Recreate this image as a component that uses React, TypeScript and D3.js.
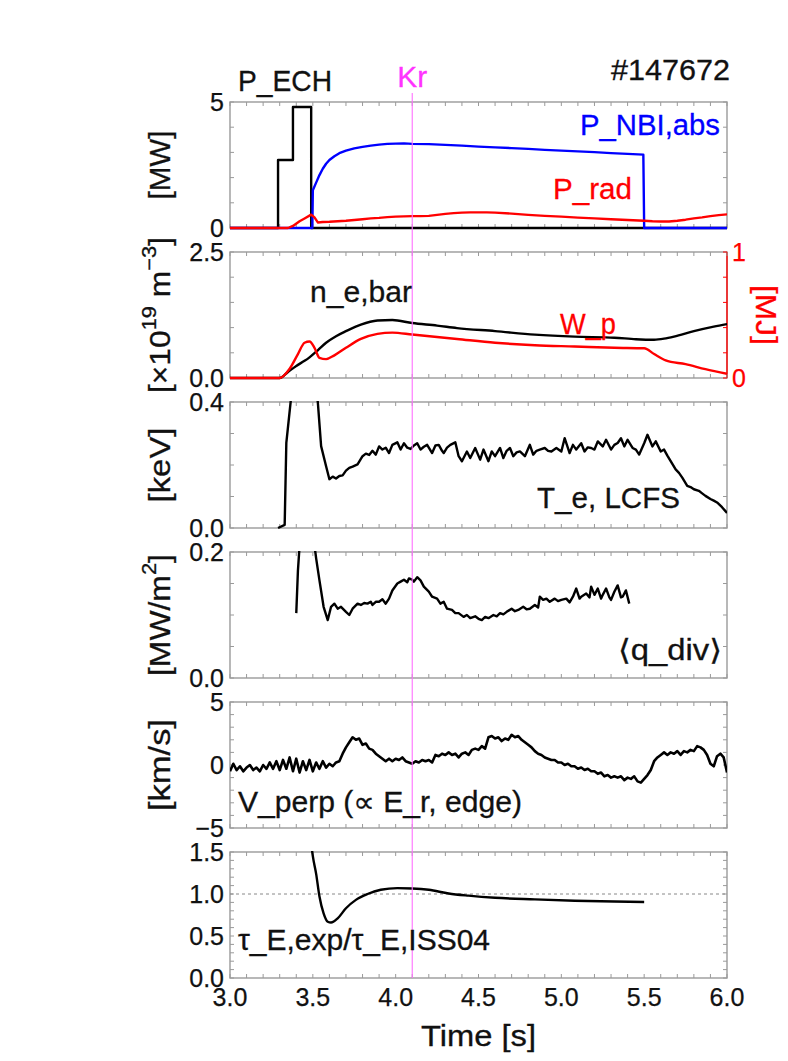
import React from 'react';
import * as d3 from 'd3';

type Pt = [number, number];

const W = 788;
const H = 1061;
const X0 = 230;
const X1 = 727;
const TOP0 = 102;
const STEP = 150;
const PH = 126;

const timeDomain: Pt = [3, 6];
const timeTicks = [3.0, 3.5, 4.0, 4.5, 5.0, 5.5, 6.0];
const krTime = 4.1;
const shotLabel = '#147672';

// Panel 1 [MW]
const pEch: Pt[] = [[3.0, 0], [3.29, 0], [3.29, 2.7], [3.38, 2.7], [3.38, 4.8], [3.49, 4.8], [3.49, 0], [6.0, 0]];
const pNbi: Pt[] = [
  [3.0, 0], [3.497, 0], [3.5, 1.5], [3.52, 1.8], [3.54, 2.1], [3.56, 2.35], [3.58, 2.55], [3.6, 2.7], [3.63, 2.85],
  [3.66, 2.97], [3.7, 3.07], [3.75, 3.16], [3.8, 3.22], [3.85, 3.27], [3.9, 3.31], [3.95, 3.34], [4.0, 3.35],
  [4.05, 3.36], [4.1, 3.34], [4.2, 3.33], [4.3, 3.3], [4.4, 3.27], [4.5, 3.23], [4.6, 3.2], [4.7, 3.17],
  [4.8, 3.14], [4.9, 3.1], [5.0, 3.07], [5.1, 3.04], [5.2, 3.01], [5.3, 2.97], [5.4, 2.94], [5.495, 2.91],
  [5.5, 0], [6.0, 0]
];
const pRad: Pt[] = [
  [3.0, 0], [3.35, 0], [3.38, 0.08], [3.42, 0.27], [3.45, 0.38], [3.49, 0.53], [3.51, 0.42], [3.53, 0.22],
  [3.56, 0.24], [3.6, 0.25], [3.65, 0.27], [3.7, 0.29], [3.75, 0.32], [3.8, 0.35], [3.85, 0.38], [3.9, 0.4],
  [3.95, 0.43], [4.0, 0.45], [4.05, 0.46], [4.1, 0.47], [4.15, 0.47], [4.2, 0.48], [4.25, 0.52], [4.3, 0.56],
  [4.35, 0.59], [4.4, 0.61], [4.45, 0.62], [4.5, 0.62], [4.55, 0.62], [4.6, 0.61], [4.7, 0.57], [4.8, 0.52],
  [4.9, 0.48], [5.0, 0.45], [5.1, 0.41], [5.2, 0.38], [5.3, 0.35], [5.4, 0.32], [5.5, 0.29], [5.55, 0.27],
  [5.6, 0.26], [5.65, 0.26], [5.7, 0.29], [5.75, 0.33], [5.8, 0.38], [5.85, 0.42], [5.9, 0.47], [5.95, 0.51],
  [6.0, 0.54]
];

// Panel 2
const neBar: Pt[] = [
  [3.0, 0], [3.3, 0], [3.35, 0.12], [3.4, 0.24], [3.45, 0.34], [3.48, 0.41], [3.53, 0.55], [3.58, 0.7],
  [3.64, 0.83], [3.7, 0.93], [3.79, 1.06], [3.89, 1.14], [3.98, 1.15], [4.1, 1.09], [4.25, 1.04], [4.37, 0.99],
  [4.6, 0.93], [4.84, 0.86], [5.08, 0.82], [5.32, 0.8], [5.45, 0.77], [5.56, 0.76], [5.62, 0.78], [5.68, 0.82],
  [5.8, 0.93], [5.92, 1.02], [6.0, 1.07]
];
const wp: Pt[] = [
  [3.0, 0], [3.3, 0], [3.36, 0.073], [3.41, 0.19], [3.45, 0.28], [3.48, 0.29], [3.51, 0.24], [3.54, 0.16],
  [3.58, 0.15], [3.63, 0.18], [3.7, 0.24], [3.79, 0.31], [3.89, 0.35], [3.98, 0.36], [4.1, 0.345], [4.37, 0.31],
  [4.6, 0.28], [4.84, 0.26], [5.08, 0.25], [5.32, 0.24], [5.5, 0.236], [5.56, 0.19], [5.63, 0.14], [5.75, 0.11],
  [5.87, 0.07], [6.0, 0.034]
];

// Panel 3 [keV]
const teLcfs: Pt[] = [
  [3.29, 0], [3.33, 0.01], [3.34, 0.27], [3.37, 0.42], [3.42, 0.5], [3.5, 0.5], [3.53, 0.4], [3.55, 0.26],
  [3.58, 0.196], [3.6, 0.155], [3.62, 0.163], [3.64, 0.157], [3.66, 0.165], [3.68, 0.167], [3.7, 0.182],
  [3.72, 0.191], [3.74, 0.195], [3.77, 0.202], [3.8, 0.228], [3.82, 0.236], [3.84, 0.232], [3.86, 0.245],
  [3.88, 0.233], [3.9, 0.259], [3.92, 0.249], [3.94, 0.255], [3.96, 0.238], [3.98, 0.264], [4.01, 0.272],
  [4.03, 0.249], [4.05, 0.269], [4.07, 0.255], [4.09, 0.251], [4.11, 0.262], [4.13, 0.269], [4.15, 0.249],
  [4.17, 0.258], [4.19, 0.264], [4.22, 0.238], [4.24, 0.262], [4.26, 0.264], [4.28, 0.245], [4.29, 0.238],
  [4.31, 0.255], [4.33, 0.264], [4.36, 0.272], [4.38, 0.228], [4.4, 0.212], [4.43, 0.243], [4.45, 0.222],
  [4.48, 0.254], [4.51, 0.217], [4.53, 0.249], [4.56, 0.212], [4.58, 0.243], [4.6, 0.228], [4.63, 0.254],
  [4.65, 0.222], [4.67, 0.245], [4.69, 0.254], [4.71, 0.228], [4.73, 0.24], [4.75, 0.243], [4.78, 0.228],
  [4.81, 0.264], [4.83, 0.233], [4.85, 0.245], [4.87, 0.249], [4.9, 0.254], [4.92, 0.245], [4.94, 0.243],
  [4.97, 0.254], [5.0, 0.243], [5.02, 0.285], [5.05, 0.238], [5.07, 0.264], [5.09, 0.249], [5.12, 0.269],
  [5.14, 0.243], [5.16, 0.256], [5.18, 0.254], [5.2, 0.249], [5.22, 0.275], [5.25, 0.259], [5.27, 0.28],
  [5.3, 0.249], [5.32, 0.264], [5.34, 0.27], [5.36, 0.285], [5.38, 0.259], [5.4, 0.28], [5.43, 0.254],
  [5.45, 0.249], [5.47, 0.233], [5.5, 0.269], [5.52, 0.296], [5.55, 0.259], [5.57, 0.275], [5.6, 0.243],
  [5.62, 0.249], [5.64, 0.23], [5.66, 0.212], [5.69, 0.186], [5.71, 0.175], [5.73, 0.16], [5.76, 0.134],
  [5.78, 0.13], [5.8, 0.123], [5.83, 0.118], [5.85, 0.11], [5.87, 0.102], [5.9, 0.092], [5.92, 0.087],
  [5.94, 0.081], [5.97, 0.066], [6.0, 0.048]
];

// Panel 4 [MW/m2]
const qDiv: Pt[] = [
  [3.4, 0.103], [3.41, 0.17], [3.42, 0.21], [3.51, 0.21], [3.52, 0.19], [3.54, 0.155], [3.565, 0.113],
  [3.59, 0.092], [3.61, 0.113], [3.63, 0.118], [3.65, 0.11], [3.67, 0.113], [3.7, 0.105], [3.72, 0.1],
  [3.74, 0.11], [3.77, 0.118], [3.79, 0.116], [3.81, 0.119], [3.83, 0.118], [3.85, 0.121], [3.86, 0.116],
  [3.88, 0.121], [3.9, 0.121], [3.92, 0.125], [3.94, 0.118], [3.96, 0.126], [3.98, 0.139], [4.01, 0.15],
  [4.03, 0.153], [4.05, 0.156], [4.07, 0.152], [4.08, 0.158], [4.1, 0.156], [4.11, 0.153], [4.13, 0.16],
  [4.15, 0.155], [4.17, 0.145], [4.2, 0.137], [4.22, 0.129], [4.25, 0.126], [4.27, 0.118], [4.29, 0.121],
  [4.31, 0.11], [4.34, 0.108], [4.36, 0.103], [4.38, 0.103], [4.41, 0.097], [4.43, 0.1], [4.45, 0.095],
  [4.48, 0.098], [4.5, 0.094], [4.52, 0.092], [4.54, 0.097], [4.56, 0.095], [4.59, 0.1], [4.61, 0.098],
  [4.63, 0.103], [4.65, 0.101], [4.67, 0.105], [4.7, 0.11], [4.72, 0.106], [4.74, 0.108], [4.77, 0.113],
  [4.79, 0.109], [4.81, 0.11], [4.84, 0.116], [4.86, 0.112], [4.87, 0.129], [4.89, 0.124], [4.91, 0.126],
  [4.93, 0.121], [4.96, 0.126], [4.98, 0.122], [5.0, 0.124], [5.03, 0.126], [5.05, 0.12], [5.07, 0.129],
  [5.09, 0.142], [5.11, 0.126], [5.12, 0.129], [5.15, 0.134], [5.17, 0.128], [5.18, 0.145], [5.2, 0.132],
  [5.22, 0.142], [5.24, 0.126], [5.25, 0.132], [5.27, 0.142], [5.29, 0.128], [5.3, 0.124], [5.32, 0.137],
  [5.34, 0.147], [5.36, 0.128], [5.37, 0.129], [5.39, 0.139], [5.41, 0.118]
];

// Panel 5 [km/s]
const vPerp: Pt[] = [
  [3.0, -0.5], [3.02, 0.1], [3.04, -0.4], [3.06, -0.1], [3.08, -0.5], [3.1, -0.2], [3.12, 0.0], [3.14, -0.4],
  [3.16, -0.2], [3.18, -0.5], [3.2, 0.0], [3.22, -0.3], [3.24, 0.2], [3.26, -0.3], [3.28, 0.3], [3.3, -0.4],
  [3.32, 0.4], [3.34, -0.3], [3.36, 0.6], [3.38, -0.5], [3.4, 0.5], [3.42, -0.6], [3.44, 0.3], [3.46, -0.4],
  [3.48, 0.4], [3.5, -0.5], [3.52, 0.2], [3.54, -0.3], [3.56, 0.3], [3.58, -0.2], [3.6, 0.1], [3.62, -0.1],
  [3.64, 0.2], [3.66, 0.3], [3.68, 0.9], [3.7, 1.4], [3.72, 1.8], [3.74, 2.2], [3.76, 2.0], [3.78, 2.1],
  [3.8, 1.6], [3.82, 1.7], [3.84, 1.3], [3.86, 1.2], [3.88, 0.9], [3.9, 0.7], [3.92, 0.5], [3.94, 0.3],
  [3.96, 0.5], [3.98, 0.3], [4.0, 0.5], [4.02, 0.4], [4.04, 0.6], [4.06, 0.3], [4.08, 0.2], [4.1, 0.1],
  [4.12, 0.3], [4.14, 0.2], [4.16, 0.4], [4.18, 0.3], [4.2, 0.4], [4.22, 0.2], [4.24, 0.8], [4.26, 0.7],
  [4.28, 0.9], [4.3, 0.8], [4.32, 1.0], [4.34, 0.8], [4.36, 0.9], [4.38, 0.6], [4.4, 0.9], [4.42, 1.0],
  [4.44, 0.8], [4.46, 1.2], [4.48, 1.3], [4.5, 1.2], [4.52, 1.5], [4.54, 1.3], [4.56, 2.2], [4.58, 2.3],
  [4.6, 2.1], [4.62, 2.2], [4.64, 1.9], [4.66, 2.1], [4.68, 2.0], [4.7, 2.4], [4.72, 2.2], [4.74, 2.3],
  [4.76, 2.0], [4.78, 1.8], [4.8, 1.6], [4.82, 1.4], [4.84, 1.1], [4.86, 0.9], [4.88, 0.8], [4.9, 0.6],
  [4.92, 0.5], [4.94, 0.4], [4.96, 0.4], [4.98, 0.2], [5.0, 0.2], [5.02, 0.0], [5.04, 0.1], [5.06, -0.1],
  [5.08, -0.1], [5.1, -0.3], [5.12, -0.2], [5.14, -0.4], [5.16, -0.3], [5.18, -0.5], [5.2, -0.5], [5.22, -0.7],
  [5.24, -0.6], [5.26, -0.9], [5.28, -0.8], [5.3, -1.0], [5.32, -0.9], [5.34, -1.0], [5.36, -0.9], [5.38, -1.2],
  [5.4, -1.0], [5.42, -1.1], [5.44, -0.9], [5.46, -1.3], [5.48, -1.4], [5.5, -1.1], [5.52, -0.8], [5.54, -0.4],
  [5.56, 0.3], [5.58, 0.6], [5.6, 0.8], [5.62, 1.0], [5.64, 0.8], [5.66, 1.0], [5.68, 0.9], [5.7, 1.1],
  [5.72, 0.8], [5.74, 1.1], [5.76, 1.0], [5.78, 1.2], [5.8, 1.1], [5.82, 1.5], [5.84, 1.4], [5.86, 1.2],
  [5.88, 0.8], [5.9, 0.1], [5.92, -0.1], [5.94, 0.7], [5.96, 0.9], [5.98, 0.6], [6.0, -0.6]
];

// Panel 6
const tauRatio: Pt[] = [
  [3.49, 1.6], [3.5, 1.45], [3.52, 1.24], [3.54, 0.97], [3.565, 0.77], [3.59, 0.67], [3.61, 0.66], [3.65, 0.71],
  [3.7, 0.83], [3.76, 0.93], [3.83, 1.0], [3.91, 1.05], [4.01, 1.07], [4.1, 1.066], [4.2, 1.05], [4.32, 1.006],
  [4.44, 0.98], [4.6, 0.955], [4.84, 0.936], [5.08, 0.92], [5.32, 0.91], [5.5, 0.904]
];
const tauRef = 1.0;

const p1Ticks = [0, 5];
const p2Ticks = [0, 2.5];
const p2RightTicks = [0, 1];
const p3Ticks = [0, 0.4];
const p4Ticks = [0, 0.2];
const p5Ticks = [-5, 0, 5];
const p6Ticks = [0, 0.5, 1.0, 1.5];

const FONT = '"Liberation Sans", Arial, "DejaVu Sans", "Noto Sans CJK JP", sans-serif';
const FRAME = '#9a9a9a';
const BLUE = '#0000ff';
const RED = '#ff0000';
const MAGENTA = '#ff70ff';
const INK = '#111';

type Series = { data: Pt[]; color: string; smooth?: boolean; right?: boolean; width?: number };
type Panel = {
  dom: Pt;
  ticks: number[];
  fmt: (n: number) => string;
  minor: number;
  series: Series[];
  right?: { dom: Pt; ticks: number[]; minor: number };
};

function Label(props: { x: number; y: number; fill?: string; len?: number; anchor?: string; size?: number; children: React.ReactNode; transform?: string }) {
  const fill = props.fill || INK;
  return (
    <text
      x={props.x}
      y={props.y}
      transform={props.transform}
      textAnchor={props.anchor || 'start'}
      fontSize={props.size || 29}
      fill={fill}
      stroke={fill}
      strokeWidth={0.3}
      textLength={props.len}
      lengthAdjust="spacingAndGlyphs"
    >
      {props.children}
    </text>
  );
}

export default function App() {
  const x = d3.scaleLinear().domain(timeDomain).range([X0, X1]);
  const topOf = (i: number) => TOP0 + STEP * i;
  const f1 = d3.format('.1f');
  const fd = d3.format('d');

  const panels: Panel[] = [
    { dom: [0, 5], ticks: p1Ticks, fmt: fd, minor: 1, series: [
      { data: pEch, color: '#000' }, { data: pNbi, color: BLUE }, { data: pRad, color: RED }] },
    { dom: [0, 2.5], ticks: p2Ticks, fmt: f1, minor: 0.5, series: [
      { data: neBar, color: '#000', smooth: true }, { data: wp, color: RED, smooth: true, right: true }],
      right: { dom: [0, 1], ticks: p2RightTicks, minor: 0.2 } },
    { dom: [0, 0.4], ticks: p3Ticks, fmt: f1, minor: 0.1, series: [{ data: teLcfs, color: '#000' }] },
    { dom: [0, 0.2], ticks: p4Ticks, fmt: f1, minor: 0.05, series: [{ data: qDiv, color: '#000' }] },
    { dom: [-5, 5], ticks: p5Ticks, fmt: fd, minor: 1, series: [{ data: vPerp, color: '#000', width: 2.6 }] },
    { dom: [0, 1.5], ticks: p6Ticks, fmt: f1, minor: 0.1, series: [{ data: tauRatio, color: '#000', smooth: true }] },
  ];

  const xMinor = d3.range(30, 61).map((v) => v / 10);
  const yLabelX = 160;

  const yLabels: { node: React.ReactNode; len?: number }[] = [
    { node: <>[MW]</>, len: 69 },
    { node: <>[×10<tspan dy={-11} fontSize={20}>19</tspan><tspan dy={11}>  m</tspan><tspan dy={-11} fontSize={20}>−3</tspan><tspan dy={11}>]</tspan></>, len: 156 },
    { node: <>[keV]</>, len: 75 },
    { node: <>[MW/m<tspan dy={-11} fontSize={20}>2</tspan><tspan dy={11}>]</tspan></>, len: 122 },
    { node: <>[km/s]</>, len: 92 },
    { node: null },
  ];

  return (
    <div style={{ position: 'absolute', left: 0, top: 0 }}>
      <svg width={W} height={H} viewBox={`0 0 ${W} ${H}`} style={{ display: 'block', background: '#fff' }} fontFamily={FONT}>
        <defs>
          {panels.map((p, i) => (
            <clipPath id={`clip${i}`} key={i}>
              <rect x={X0} y={topOf(i) - 1} width={X1 - X0} height={PH + 3} />
            </clipPath>
          ))}
        </defs>

        {panels.map((p, i) => {
          const t = topOf(i);
          const b = t + PH;
          const y = d3.scaleLinear().domain(p.dom).range([b, t]);
          const yr = p.right ? d3.scaleLinear().domain(p.right.dom).range([b, t]) : y;
          const minorVals = d3.range(Math.round((p.dom[1] - p.dom[0]) / p.minor) + 1).map((k) => p.dom[0] + k * p.minor);
          const rightMinor = p.right
            ? d3.range(Math.round((p.right.dom[1] - p.right.dom[0]) / p.right.minor) + 1).map((k) => p.right!.dom[0] + k * p.right!.minor)
            : minorVals;
          return (
            <g key={i}>
              <rect x={X0} y={t} width={X1 - X0} height={PH} fill="none" stroke={FRAME} strokeWidth={1.4} />
              {p.right && <line x1={X1} x2={X1} y1={t} y2={b} stroke={RED} strokeWidth={1.4} />}
              {xMinor.map((v, k) => (
                <g key={`xt${k}`}>
                  <line x1={x(v)} x2={x(v)} y1={b} y2={b - 4} stroke={FRAME} strokeWidth={1} />
                  <line x1={x(v)} x2={x(v)} y1={t} y2={t + 4} stroke={FRAME} strokeWidth={1} />
                </g>
              ))}
              {minorVals.map((v, k) => (
                <line key={`yl${k}`} x1={X0} x2={X0 + 4} y1={y(v)} y2={y(v)} stroke={FRAME} strokeWidth={1} />
              ))}
              {rightMinor.map((v, k) => (
                <line key={`yr${k}`} x1={X1 - 4} x2={X1} y1={yr(v)} y2={yr(v)} stroke={p.right ? RED : FRAME} strokeWidth={1} />
              ))}
              {p.ticks.map((v, k) => (
                <text key={`tl${k}`} x={224} y={y(v)} dy="0.36em" textAnchor="end" fontSize={25} fill={INK} stroke={INK} strokeWidth={0.25}>{p.fmt(v)}</text>
              ))}
              {p.right && p.right.ticks.map((v, k) => (
                <text key={`tr${k}`} x={732} y={yr(v)} dy="0.36em" textAnchor="start" fontSize={25} fill={RED} stroke={RED} strokeWidth={0.25}>{fd(v)}</text>
              ))}
              {i === 5 && (
                <line x1={X0} x2={X1} y1={y(tauRef)} y2={y(tauRef)} stroke="#888" strokeWidth={1} strokeDasharray="3,3" />
              )}
              <g clipPath={`url(#clip${i})`}>
                {p.series.map((s, k) => {
                  const ys = s.right ? yr : y;
                  const gen = d3.line<Pt>().x((d) => x(d[0])).y((d) => ys(d[1]))
                    .curve(s.smooth ? d3.curveMonotoneX : d3.curveLinear);
                  return <path key={k} d={gen(s.data) || ''} fill="none" stroke={s.color} strokeWidth={s.width || 2.4} strokeLinejoin="round" />;
                })}
              </g>
              {yLabels[i].node && (
                <text transform={`translate(${yLabelX},${t + PH / 2}) rotate(-90)`} textAnchor="middle" dominantBaseline="central"
                  fontSize={29} fill={INK} stroke={INK} strokeWidth={0.3} textLength={yLabels[i].len} lengthAdjust="spacingAndGlyphs">
                  {yLabels[i].node}
                </text>
              )}
            </g>
          );
        })}

        <line x1={x(krTime)} x2={x(krTime)} y1={93} y2={topOf(5) + PH} stroke={MAGENTA} strokeWidth={1.1} />

        {timeTicks.map((v, k) => (
          <text key={k} x={x(v)} y={1006} textAnchor="middle" fontSize={25} fill={INK} stroke={INK} strokeWidth={0.25}>{f1(v)}</text>
        ))}
        <Label x={(X0 + X1) / 2} y={1046} anchor="middle" len={115} size={30}>Time [s]</Label>

        <Label x={238} y={91} len={94}>P_ECH</Label>
        <Label x={x(krTime)} y={87} anchor="middle" fill="#ff33ff" len={30}>Kr</Label>
        <Label x={730} y={80} anchor="end" len={119}>{shotLabel}</Label>
        <Label x={580} y={135} fill={BLUE} len={140}>P_NBI,abs</Label>
        <Label x={553} y={199} fill={RED} len={79}>P_rad</Label>
        <Label x={310} y={302} len={102}>n_e,bar</Label>
        <Label x={560} y={334} fill={RED} len={56}>W_p</Label>
        <Label x={0} y={0} transform={`translate(766,${topOf(1) + PH / 2}) rotate(90)`} anchor="middle" fill={RED} len={60}>
          <tspan dy="0.35em">[MJ]</tspan>
        </Label>
        <Label x={537} y={508} len={143}>T_e, LCFS</Label>
        <Label x={618} y={660} len={104}>⟨q_div⟩</Label>
        <Label x={238} y={812} len={284}>V_perp (∝ E_r, edge)</Label>
        <Label x={238} y={950} len={252}>τ_E,exp/τ_E,ISS04</Label>
      </svg>
    </div>
  );
}
